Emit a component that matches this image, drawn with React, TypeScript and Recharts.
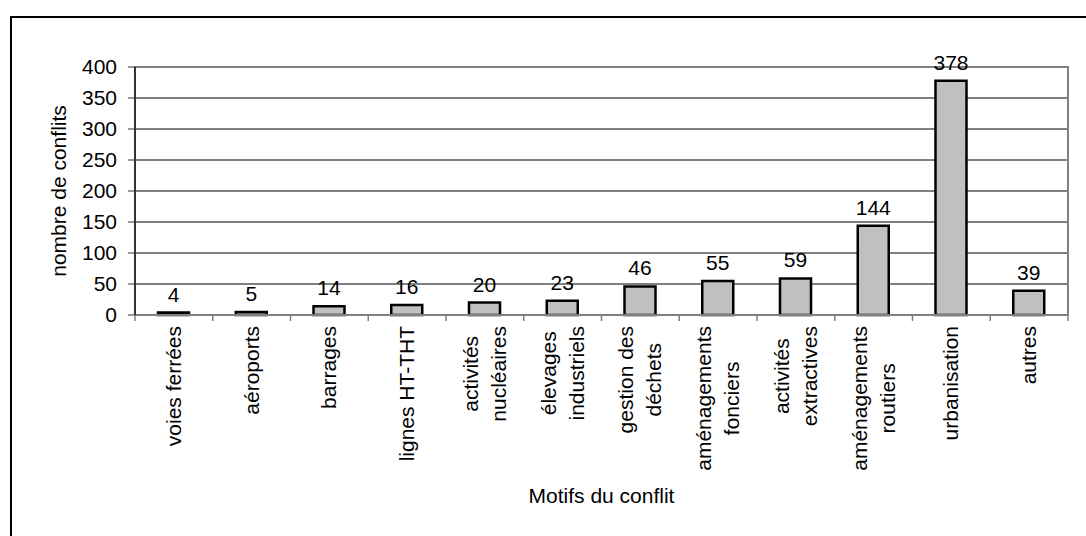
import React from 'react';
import {
  BarChart,
  Bar,
  XAxis,
  YAxis,
  CartesianGrid,
  LabelList,
  Label,
  ReferenceArea
} from 'recharts';

// categories (line breaks as on the original axis)
const categories = [
  'voies ferrées',
  'aéroports',
  'barrages',
  'lignes HT-THT',
  'activités\nnucléaires',
  'élevages\nindustriels',
  'gestion des\ndéchets',
  'aménagements\nfonciers',
  'activités\nextractives',
  'aménagements\nroutiers',
  'urbanisation',
  'autres'
];

const conflicts = [4, 5, 14, 16, 20, 23, 46, 55, 59, 144, 378, 39];

const yTicks = [0, 50, 100, 150, 200, 250, 300, 350, 400];

const data = categories.map((name, i) => ({ name, conflicts: conflicts[i] }));

const FONT = '"Liberation Sans", Arial, sans-serif';
const FONT_SIZE = 21;
const LINE_HEIGHT = 28;

let ctx: CanvasRenderingContext2D | null = null;
const measure = (s: string) => {
  if (!ctx) ctx = document.createElement('canvas').getContext('2d');
  if (!ctx) return s.length * FONT_SIZE * 0.5;
  ctx.font = `${FONT_SIZE}px "Liberation Sans"`;
  return ctx.measureText(s).width;
};

// rotated multi-line tick, with the tick marks between categories
const CategoryTick = (props: any) => {
  const { x, y, payload, index, width, visibleTicksCount } = props;
  const half = payload.offset || width / visibleTicksCount / 2;
  const lines = String(payload.value).split('\n');
  const maxW = Math.max(...lines.map(measure));
  const center = 11 + maxW / 2;
  return (
    <g>
      <line x1={x - half} x2={x - half} y1={y} y2={y + 6} stroke="#808080" strokeWidth={1.5} />
      {index === visibleTicksCount - 1 && (
        <line x1={x + half} x2={x + half} y1={y} y2={y + 6} stroke="#808080" strokeWidth={1.5} />
      )}
      <g transform={`translate(${x},${y}) rotate(-90)`}>
        {lines.map((l, i) => (
          <text
            key={i}
            x={-center}
            y={(i - (lines.length - 1) / 2) * LINE_HEIGHT + 7}
            textAnchor="middle"
            fontSize={FONT_SIZE}
            fontFamily={FONT}
            fill="#000"
          >
            {l}
          </text>
        ))}
      </g>
    </g>
  );
};

const YLabel = (props: any) => {
  const vb = props.viewBox;
  return (
    <text
      transform={`translate(${vb.x + 66},${vb.y + vb.height / 2}) rotate(-90)`}
      textAnchor="middle"
      fontSize={FONT_SIZE}
      fontFamily={FONT}
      fill="#000"
    >
      nombre de conflits
    </text>
  );
};

const App: React.FC = () => {
  return (
    <div
      style={{
        position: 'absolute',
        left: 0,
        top: 0,
        width: 1086,
        height: 536,
        overflow: 'hidden',
        background: '#fff'
      }}
    >
      <div
        style={{
          position: 'absolute',
          left: 10,
          top: 16,
          width: 1200,
          height: 700,
          borderLeft: '2px solid #000',
          borderTop: '2px solid #000'
        }}
      />
      <div style={{ position: 'absolute', left: 0, top: 0 }}>
        <BarChart
          width={1086}
          height={536}
          data={data}
          margin={{ top: 67, right: 18, bottom: 0, left: 0 }}
          barSize={31}
        >
          <CartesianGrid vertical={false} stroke="#000" strokeWidth={1} />
          <ReferenceArea y1={0} y2={400} fill="none" stroke="#808080" strokeWidth={2} />
          <XAxis
            dataKey="name"
            interval={0}
            height={221}
            tickSize={0}
            tickMargin={0}
            tick={CategoryTick}
            tickLine={false}
            axisLine={{ stroke: '#808080', strokeWidth: 2 }}
          >
            <Label
              value="Motifs du conflit"
              position="insideBottom"
              offset={33}
              style={{ fontSize: FONT_SIZE, fontFamily: FONT, fill: '#000' }}
            />
          </XAxis>
          <YAxis
            domain={[0, 400]}
            ticks={yTicks}
            interval={0}
            width={135}
            tickSize={7}
            tickMargin={11}
            axisLine={{ stroke: '#333', strokeWidth: 2 }}
            tickLine={{ stroke: '#333' }}
            tick={{ fontSize: FONT_SIZE, fontFamily: FONT, fill: '#000' }}
          >
            <Label content={YLabel} />
          </YAxis>
          <Bar
            dataKey="conflicts"
            fill="#C0C0C0"
            stroke="#000"
            strokeWidth={2.5}
            isAnimationActive={false}
          >
            <LabelList
              dataKey="conflicts"
              position="top"
              offset={11}
              style={{ fontSize: FONT_SIZE, fontFamily: FONT, fill: '#000' }}
            />
          </Bar>
        </BarChart>
      </div>
    </div>
  );
};

export default App;
